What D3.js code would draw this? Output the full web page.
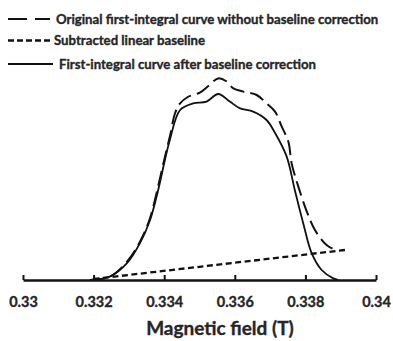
<!DOCTYPE html>
<html>
<head>
<meta charset="utf-8">
<script src="https://cdn.jsdelivr.net/npm/d3@7"></script>
<style>
  body { margin: 0; background: #fff; }
  text { font-family: Lato, "Open Sans", sans-serif; font-weight: bold; fill: #262626; stroke: #262626; stroke-width: 0.35px; }
</style>
</head>
<body>
<div id="chart"></div>
<script>

// magnetic field (T) and first-integral intensity (arb. units)
let correctedField = [0.3319, 0.33246, 0.33294, 0.33331, 0.3336, 0.33383, 0.33402, 0.33416, 0.33445,
                      0.33482, 0.3352, 0.33553, 0.33586, 0.33615, 0.33652, 0.3369, 0.33714, 0.33747,
                      0.3377, 0.33794, 0.33818, 0.33846, 0.33879, 0.33893]
let correctedValue = [0, 0.017, 0.083, 0.183, 0.30, 0.45, 0.60, 0.70, 0.85,
                      0.883, 0.892, 0.93, 0.892, 0.858, 0.842, 0.80, 0.735, 0.617,
                      0.45, 0.283, 0.133, 0.05, 0.008, 0]

let originalField = [0.3319, 0.33246, 0.33294, 0.33331, 0.3336, 0.33383, 0.33402, 0.33416, 0.33431,
                     0.33445, 0.33467, 0.33501, 0.33525, 0.33553, 0.33575, 0.33596, 0.33624, 0.33662,
                     0.3369, 0.33714, 0.33733, 0.33752, 0.33761, 0.3378, 0.33804, 0.33827, 0.3386, 0.33884]
let originalValue = [0, 0.017, 0.09, 0.19, 0.31, 0.47, 0.615, 0.717, 0.835,
                     0.883, 0.915, 0.937, 0.97, 1.008, 0.995, 0.958, 0.942, 0.925,
                     0.883, 0.842, 0.767, 0.69, 0.583, 0.467, 0.342, 0.25, 0.175, 0.15]

let baselineField = [0.3320, 0.33912]
let baselineValue = [0.005, 0.15]

let tickValues = [0.33, 0.332, 0.334, 0.336, 0.338, 0.34]
let tickLabels = ["0.33", "0.332", "0.334", "0.336", "0.338", "0.34"]

let legendLabels = ["Original first-integral curve without baseline correction",
                    "Subtracted linear baseline",
                    "First-integral curve after baseline correction"]

let width = 393
let height = 341

let svg = d3.select("#chart").append("svg")
svg.attr("width", width)
svg.attr("height", height)

let xScale = d3.scaleLinear()
               .domain([0.33, 0.34])
               .range([23, 376])
let yScale = d3.scaleLinear()
               .domain([0, 1])
               .range([280, 80])

let line = d3.line()
             .x(d => xScale(d[0]))
             .y(d => yScale(d[1]))
             .curve(d3.curveCatmullRom)

let series = [
  {pts: d3.zip(originalField, originalValue), dash: "15,6", w: 2},
  {pts: d3.zip(baselineField, baselineValue), dash: "6,3.5", w: 2.3},
  {pts: d3.zip(correctedField, correctedValue), dash: null, w: 1.8}
]

svg.selectAll("path.curve")
   .data(series)
   .enter()
   .append("path")
   .attr("class", "curve")
   .attr("d", d => line(d.pts))
   .style("fill", "none")
   .style("stroke", "#111")
   .style("stroke-width", d => d.w)
   .style("stroke-dasharray", d => d.dash)

// x axis, ticks pointing inward
let xAxis = d3.axisBottom(xScale)
              .tickValues(tickValues)
              .tickFormat((d, i) => tickLabels[i])
              .tickSizeInner(-5)
              .tickSizeOuter(0)
              .tickPadding(17)

let gx = svg.append("g")
            .attr("transform", "translate(0,280)")
            .call(xAxis)
gx.select(".domain").attr("stroke", "#111").attr("stroke-width", 2.5)
gx.selectAll(".tick line").attr("stroke", "#111").attr("stroke-width", 2)
gx.selectAll(".tick text")
  .style("font-family", "Lato, sans-serif")
  .style("font-weight", "bold")
  .style("font-size", "14.5px")
  .attr("fill", "#262626")

svg.append("text")
   .attr("x", 220)
   .attr("y", 335)
   .attr("text-anchor", "middle")
   .style("font-size", "19px")
   .text("Magnetic field (T)")

// legend
let legendY = [19, 40.5, 64]
let legendX = [56, 54, 59]
let legendSample = [
  {x1: 8, x2: 50, dash: "19,8", w: 2.2},
  {x1: 8, x2: 50, dash: "6,3", w: 2.3},
  {x1: 8, x2: 53, dash: null, w: 2}
]

let legend = svg.selectAll("g.legend")
                .data(legendLabels)
                .enter()
                .append("g")
                .attr("class", "legend")
                .attr("transform", (d, i) => "translate(0," + legendY[i] + ")")

legend.append("line")
      .attr("x1", (d, i) => legendSample[i].x1)
      .attr("x2", (d, i) => legendSample[i].x2)
      .attr("y1", 0)
      .attr("y2", 0)
      .style("stroke", "#111")
      .style("stroke-width", (d, i) => legendSample[i].w)
      .style("stroke-dasharray", (d, i) => legendSample[i].dash)

legend.append("text")
      .attr("x", (d, i) => legendX[i])
      .attr("y", 0)
      .attr("dy", "0.35em")
      .style("font-size", "13.2px")
      .text(d => d)

</script>
</body>
</html>
